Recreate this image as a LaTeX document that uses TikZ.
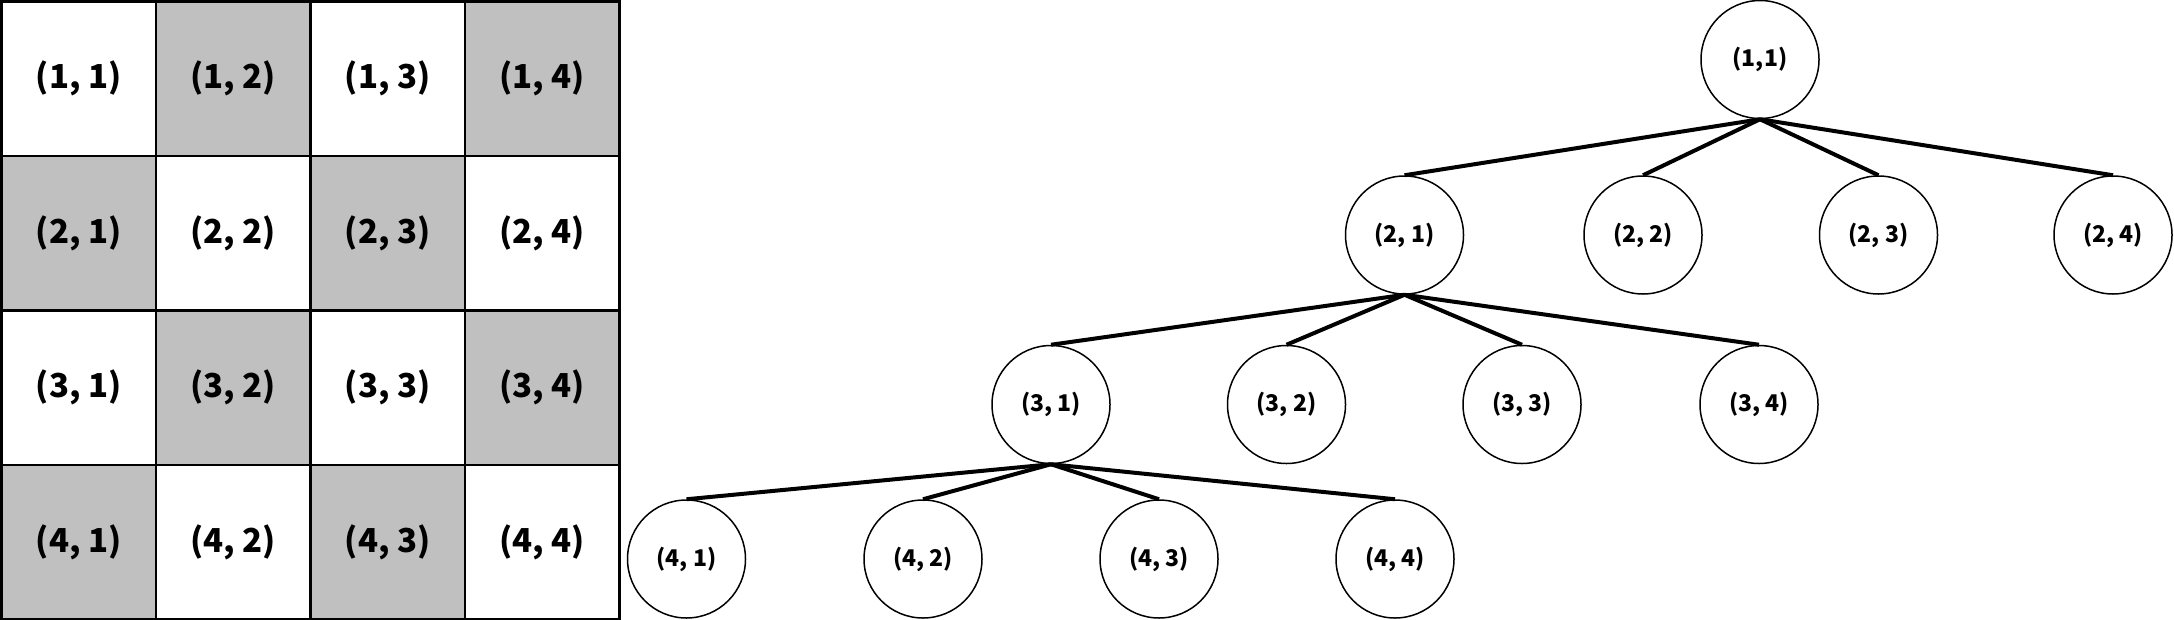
\documentclass[tikz,border=0pt]{standalone}
\usepackage{fontspec}
\newfontfamily\kr{Noto Sans CJK KR}
\definecolor{cellgray}{RGB}{192,192,192}
\begin{document}
\begin{tikzpicture}[x=1pt,y=-1pt,
  cell/.style={draw=black,line width=2.5pt,minimum size=154.7pt,inner sep=0pt,anchor=center,font=\kr\bfseries\fontsize{33}{33}\selectfont},
  dark/.style={cell,fill=cellgray},
  light/.style={cell,fill=white},
  tnode/.style={circle,draw=black,line width=1.5pt,minimum size=118pt,inner sep=0pt,font=\kr\bfseries\fontsize{23}{23}\selectfont},
  edge/.style={line width=4pt}]
\useasboundingbox (0,0) rectangle (2174,619);
% grid
\foreach \r in {1,...,4}{
  \foreach \c in {1,...,4}{
    \pgfmathtruncatemacro{\parity}{mod(\r+\c,2)}
    \ifnum\parity=0
      \node[light] (g\r\c) at ({1.5+154.5*(\c-0.5)},{1.5+154.5*(\r-0.5)}) {(\r, \c)};
    \else
      \node[dark] (g\r\c) at ({1.5+154.5*(\c-0.5)},{1.5+154.5*(\r-0.5)}) {(\r, \c)};
    \fi
  }
}
% tree
\node[tnode] (r11) at (1760,59.5) {(1,1)};
\node[tnode] (a21) at (1404.5,235) {(2, 1)};
\node[tnode] (a22) at (1643,235) {(2, 2)};
\node[tnode] (a23) at (1878.5,235) {(2, 3)};
\node[tnode] (a24) at (2113,235) {(2, 4)};
\node[tnode] (b31) at (1051,404.5) {(3, 1)};
\node[tnode] (b32) at (1286.5,404.5) {(3, 2)};
\node[tnode] (b33) at (1522,404.5) {(3, 3)};
\node[tnode] (b34) at (1759,404.5) {(3, 4)};
\node[tnode] (c41) at (686.5,559) {(4, 1)};
\node[tnode] (c42) at (923,559) {(4, 2)};
\node[tnode] (c43) at (1159,559) {(4, 3)};
\node[tnode] (c44) at (1395,559) {(4, 4)};
\foreach \ch in {a21,a22,a23,a24} \draw[edge] (r11.south) -- (\ch.north);
\foreach \ch in {b31,b32,b33,b34} \draw[edge] (a21.south) -- (\ch.north);
\foreach \ch in {c41,c42,c43,c44} \draw[edge] (b31.south) -- (\ch.north);
\end{tikzpicture}
\end{document}
